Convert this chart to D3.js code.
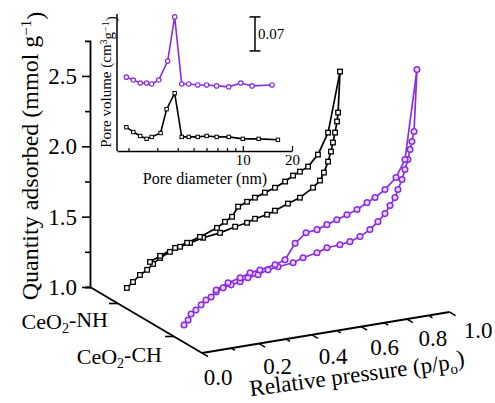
<!DOCTYPE html>
<html><head><meta charset="utf-8">
<script src="https://cdn.jsdelivr.net/npm/d3@7/dist/d3.min.js"></script>
<style>
body{margin:0;background:#fff}
svg{display:block}
text{font-family:"Liberation Serif","Times New Roman",Times,serif;fill:#000}
</style>
</head><body>
<svg id="c" width="495" height="403"></svg>
<script>
// ---------------- DATA ----------------
const samples = ["CeO₂-NH", "CeO₂-CH"];
const sampleDepth = [0.25, 0.75];
const pressureTicks = [0,0.1,0.2,0.3,0.4,0.5,0.6,0.7,0.8,0.9,1.0];
const pressureLabels = [0,0.2,0.4,0.6,0.8,1.0];
const quantityTicks = [1.0,1.5,2.0,2.5];
const quantityMinor = [1.25,1.75,2.25];

// CeO2-NH (black) adsorption / desorption branches
const nhAdsP = [0.030,0.051,0.075,0.100,0.121,0.146,0.181,0.218,0.255,0.304,0.369,0.428,0.476,0.508,0.558,0.591,0.646,0.698,0.756,0.787,0.805,0.824,0.837,0.846,0.856,0.865,0.870,0.879];
const nhAdsQ = [1.100,1.135,1.177,1.205,1.240,1.274,1.306,1.330,1.346,1.367,1.382,1.408,1.422,1.441,1.456,1.475,1.510,1.538,1.594,1.636,1.688,1.761,1.829,1.891,1.959,2.036,2.098,2.387];
const nhDesP = [0.879,0.824,0.778,0.734,0.698,0.668,0.634,0.591,0.549,0.508,0.476,0.440,0.416,0.388,0.357,0.292,0.244,0.200,0.146,0.110];
const nhDesQ = [2.387,1.967,1.823,1.749,1.723,1.703,1.670,1.638,1.615,1.591,1.571,1.547,1.482,1.455,1.421,1.377,1.350,1.328,1.289,1.258];

// CeO2-CH (purple) adsorption / desorption branches
const chAdsP = [0.034,0.048,0.058,0.075,0.093,0.110,0.128,0.146,0.171,0.200,0.233,0.262,0.300,0.338,0.377,0.436,0.476,0.533,0.574,0.629,0.672,0.716,0.760,0.796,0.828,0.851,0.874,0.888,0.907,0.921,0.935,0.945,0.954,0.964,0.978];
const chAdsQ = [1.070,1.101,1.140,1.163,1.193,1.222,1.237,1.267,1.288,1.300,1.311,1.330,1.340,1.363,1.373,1.384,1.408,1.427,1.451,1.457,1.467,1.491,1.529,1.576,1.625,1.677,1.727,1.781,1.847,1.915,1.982,2.051,2.106,2.174,2.611];
const chDesP = [0.978,0.921,0.879,0.828,0.783,0.747,0.703,0.659,0.616,0.574,0.533,0.488,0.444,0.404,0.365,0.307,0.270,0.233,0.189,0.146];
const chDesQ = [2.611,1.986,1.869,1.796,1.751,1.724,1.687,1.662,1.638,1.615,1.591,1.582,1.520,1.414,1.391,1.372,1.363,1.339,1.318,1.281];

// Inset: pore size distribution
const nhPoreD = [1.94,2.14,2.36,2.58,2.77,3.14,3.42,3.83,4.23,4.67,5.30,6.01,6.92,8.20,10.0,12.5,16.4];
const nhPoreV = [0.049,0.039,0.031,0.025,0.029,0.037,0.086,0.119,0.029,0.029,0.029,0.031,0.029,0.029,0.025,0.025,0.023];
const chPoreD = [1.94,2.14,2.36,2.58,2.77,3.06,3.47,3.83,4.23,4.67,5.30,6.01,6.92,8.20,9.72,11.4,15.1];
const chPoreV = [0.052,0.046,0.040,0.040,0.038,0.046,0.085,0.176,0.038,0.038,0.036,0.036,0.034,0.032,0.040,0.034,0.036];
const chStackOffset = 0.10;
const poreTicks = [2,3,4,5,6,7,8,9,10,20];
const poreLabels = [10,20];
const scaleBar = 0.07;

// ---------------- DRAW ----------------
const PURPLE = "#8a2be2";
const svg = d3.select("#c");

// pseudo-3D projection (oblique with perspective-compressed pressure axis)
const yScale = d3.scaleLinear().domain([1, 2.75]).range([287, 287 - 1.75*140.7]);
const xScale = d3.scaleLinear().domain([0, 1]).range([0, 247.5]);
const warp = X => X*1.2/(1+0.2*X);
const zScale = d3.scaleLinear().domain([0, 1]).range([0, 1]);
const X0 = 90, DZX = 112, DZY = 66, FLOOR = -41/247.5;
function project(X, q, Z){
  const u = xScale(warp(X)), z = zScale(Z);
  return [X0 + DZX*z + u, yScale(q) + DZY*z + FLOOR*u];
}

// ---- Inset ----
const ix = d3.scaleLog().domain([1.7, 20]).range([117, 292]);
const iy = d3.scaleLinear().domain([0, 0.282]).range([151, 14]);
const inset = svg.append("g");
inset.append("line").attr("x1", ix(1.7)).attr("x2", ix(1.7)).attr("y1", iy(0)).attr("y2", iy(0.282))
  .attr("stroke","#000").attr("stroke-width",1.5);
const ixAxis = inset.append("g").attr("transform",`translate(0,${iy(0)})`)
  .call(d3.axisBottom(ix).tickValues(poreTicks).tickSizeInner(-3).tickSizeOuter(0).tickPadding(3)
    .tickFormat(d => poreLabels.includes(d) ? d : ""));
ixAxis.select(".domain").attr("stroke-width",1.5);
ixAxis.selectAll(".tick line").attr("stroke-width",1.2).attr("y2", d => poreLabels.includes(d) ? -5 : -3);
ixAxis.selectAll("text").attr("font-size",15);
inset.append("text").attr("x",205).attr("y",184).attr("text-anchor","middle").attr("font-size",16)
  .text("Pore diameter (nm)");
const iyt = inset.append("text").attr("transform","translate(111,82) rotate(-90)").attr("text-anchor","middle").attr("font-size",15);
iyt.append("tspan").text("Pore volume (cm");
iyt.append("tspan").attr("dy","-0.45em").attr("font-size",10).text("3");
iyt.append("tspan").attr("dy","0.45em").text("g");
iyt.append("tspan").attr("dy","-0.45em").attr("font-size",10).text("−1");
iyt.append("tspan").attr("dy","0.45em").text(")");

// scale bar
const sbx = 255, sbTop = 0.276;
inset.append("line").attr("x1",sbx).attr("x2",sbx).attr("y1",iy(sbTop)).attr("y2",iy(sbTop-scaleBar)).attr("stroke","#000").attr("stroke-width",1.5);
[sbTop, sbTop-scaleBar].forEach(v => inset.append("line").attr("x1",sbx-5.5).attr("x2",sbx+5.5).attr("y1",iy(v)).attr("y2",iy(v)).attr("stroke","#000").attr("stroke-width",1.5));
inset.append("text").attr("x",sbx+3).attr("y",iy(sbTop-scaleBar/2)).attr("dy","0.35em").attr("font-size",15).text(scaleBar.toFixed(2));

const iline = d3.line().x(d=>ix(d[0])).y(d=>iy(d[1]));
const nhPore = nhPoreD.map((d,i)=>[d, nhPoreV[i]]);
const chPore = chPoreD.map((d,i)=>[d, chPoreV[i] + chStackOffset]);
inset.append("path").attr("d", iline(chPore)).attr("fill","none").attr("stroke",PURPLE).attr("stroke-width",1.6);
inset.append("path").attr("d", iline(nhPore)).attr("fill","none").attr("stroke","#000").attr("stroke-width",1.6);
inset.selectAll(".ic").data(chPore).enter().append("circle")
  .attr("cx",d=>ix(d[0])).attr("cy",d=>iy(d[1])).attr("r",2.2)
  .attr("fill","#fff").attr("stroke",PURPLE).attr("stroke-width",1.2);
inset.selectAll(".is").data(nhPore).enter().append("rect")
  .attr("x",d=>ix(d[0])-1.7).attr("y",d=>iy(d[1])-1.7).attr("width",3.4).attr("height",3.4)
  .attr("fill","#fff").attr("stroke","#000").attr("stroke-width",1);

// ---- Main axes ----
const ax = svg.append("g");
const yAxisG = ax.append("g").attr("transform",`translate(${X0},0)`)
  .call(d3.axisLeft(yScale).tickValues(quantityTicks).tickSizeInner(8).tickSizeOuter(5).tickPadding(5)
    .tickFormat(d3.format(".1f")));
yAxisG.select(".domain").attr("stroke-width",1.8);
yAxisG.selectAll(".tick line").attr("stroke-width",1.6);
yAxisG.selectAll("text").attr("font-size",23);
const yMinorG = ax.append("g").attr("transform",`translate(${X0},0)`)
  .call(d3.axisLeft(yScale).tickValues(quantityMinor).tickSize(5).tickFormat(""));
yMinorG.select(".domain").remove();
yMinorG.selectAll(".tick line").attr("stroke-width",1.6);

const yt = ax.append("text").attr("transform","translate(38,156) rotate(-90)").attr("text-anchor","middle").attr("font-size",24);
yt.append("tspan").text("Quantity adsorbed (mmol g");
yt.append("tspan").attr("dy","-0.5em").attr("font-size",15).text("−1");
yt.append("tspan").attr("dy","0.5em").text(")");

// depth axis
const d0 = project(0,1,0), d1 = project(0,1,1);
ax.append("line").attr("x1",d0[0]).attr("y1",d0[1]).attr("x2",d1[0]).attr("y2",d1[1]).attr("stroke","#000").attr("stroke-width",1.8);
const labelPos = [[108,329],[162,364]];
samples.forEach((s,i) => {
  const p = project(0,1,sampleDepth[i]);
  ax.append("line").attr("x1",p[0]-9).attr("x2",p[0]).attr("y1",p[1]).attr("y2",p[1]).attr("stroke","#000").attr("stroke-width",1.6);
  const t = ax.append("text").attr("x",labelPos[i][0]).attr("y",labelPos[i][1]).attr("text-anchor","end").attr("font-size",22);
  const parts = s.split("₂");
  t.append("tspan").text(parts[0]);
  t.append("tspan").attr("dy","0.3em").attr("font-size",14).text("2");
  t.append("tspan").attr("dy","-0.3em").text(parts[1]);
});

// pressure axis (front)
const a0 = project(0,1,1), a1 = project(1,1,1);
ax.append("line").attr("x1",a0[0]).attr("y1",a0[1]).attr("x2",a1[0]).attr("y2",a1[1]).attr("stroke","#000").attr("stroke-width",1.8);
const dl = Math.hypot(DZX,DZY), ux = DZX/dl, uy = DZY/dl;
pressureTicks.forEach((v,i) => {
  const p = project(v,1,1), len = i%2===0 ? 7 : 4.5;
  ax.append("line").attr("x1",p[0]).attr("y1",p[1]).attr("x2",p[0]+ux*len).attr("y2",p[1]+uy*len).attr("stroke","#000").attr("stroke-width",1.5);
});
pressureLabels.forEach(v => {
  const p = project(v,1,1);
  ax.append("text").attr("x",p[0]+16+12.5*v).attr("y",p[1]+23.5-6*v).attr("dy","0.35em")
    .attr("text-anchor","middle").attr("font-size",23).text(v.toFixed(1));
});
const xt = ax.append("text").attr("transform","translate(358,382) rotate(-7.5)").attr("text-anchor","middle").attr("font-size",23);
xt.append("tspan").text("Relative pressure (p/p");
xt.append("tspan").attr("dy","0.3em").attr("font-size",15).text("o");
xt.append("tspan").attr("dy","-0.3em").text(")");

// ---- Isotherms ----
const line = d3.line();
function drawSeries(adsP, adsQ, desP, desQ, Z, color, shape){
  const ads = adsP.map((p,i)=>project(p, adsQ[i], Z));
  const des = desP.map((p,i)=>project(p, desQ[i], Z));
  const g = svg.append("g");
  g.append("path").attr("d", line(des)).attr("fill","none").attr("stroke",color).attr("stroke-width",1.7).attr("stroke-linejoin","round");
  g.append("path").attr("d", line(ads)).attr("fill","none").attr("stroke",color).attr("stroke-width",1.7).attr("stroke-linejoin","round");
  const pts = ads.concat(des.slice(1));
  if (shape === "square") {
    g.selectAll("rect").data(pts).enter().append("rect")
      .attr("x",d=>d[0]-2.3).attr("y",d=>d[1]-2.3).attr("width",4.6).attr("height",4.6)
      .attr("fill","#fff").attr("stroke",color).attr("stroke-width",1.3);
  } else {
    g.selectAll("circle").data(pts).enter().append("circle")
      .attr("cx",d=>d[0]).attr("cy",d=>d[1]).attr("r",2.8)
      .attr("fill","#e6d4fa").attr("stroke",color).attr("stroke-width",1.5);
  }
}
drawSeries(nhAdsP, nhAdsQ, nhDesP, nhDesQ, sampleDepth[0], "#000", "square");
drawSeries(chAdsP, chAdsQ, chDesP, chDesQ, sampleDepth[1], PURPLE, "circle");
</script>
</body></html>
